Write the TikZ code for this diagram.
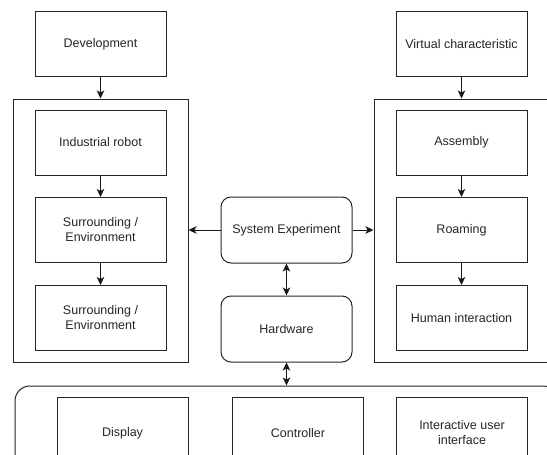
\documentclass[tikz,border=0pt]{standalone}
\usepackage{fontspec}
\setmainfont{Liberation Sans}
\usetikzlibrary{arrows.meta}
\begin{document}
\begin{tikzpicture}[x=1pt,y=-1pt,
  every node/.style={font=\fontsize{12.5}{15}\selectfont, text=black!85, align=center, inner sep=0pt},
  box/.style={draw=black!85, line width=1pt, minimum width=131pt, minimum height=65pt},
  rbox/.style={box, rounded corners=10pt, minimum height=66pt},
  frame/.style={draw=black!85, line width=1pt, minimum width=175pt, minimum height=263pt},
  arr/.style={-{Stealth[length=8pt,width=7.5pt,inset=2pt]}, line width=1pt, draw=black!90},
  darr/.style={{Stealth[length=8pt,width=7.5pt,inset=2pt]}-{Stealth[length=8pt,width=7.5pt,inset=2pt]}, line width=1pt, draw=black!90}
]
\useasboundingbox (0,0) rectangle (547,455);
\clip (0,0) rectangle (547,455);
\fill[white] (0,0) rectangle (547,455);
% left column
\node[box] (dev) at (100.5,44) {Development};
\node[frame] (lc) at (100.5,230.5) {};
\node[box] (ir) at (100.5,142.5) {Industrial robot};
\node[box] (s1) at (100.5,230) {Surrounding /\\Environment};
\node[box] (s2) at (100.5,318) {Surrounding /\\Environment};
% right column
\node[box] (vc) at (461.5,44) {Virtual characteristic};
\node[frame] (rc) at (461.5,230.5) {};
\node[box] (as) at (461.5,142.5) {Assembly};
\node[box] (ro) at (461.5,230) {Roaming};
\node[box] (hi) at (461.5,318) {Human interaction};
% middle
\node[rbox] (se) at (286.5,230) {System Experiment};
\node[rbox] (hw) at (286.5,329) {Hardware};
% bottom container
\node[draw=black!85, line width=1pt, rounded corners=15pt, minimum width=543pt, minimum height=110pt] (bc) at (286.5,441) {};
\node[box, minimum height=72pt] (disp) at (122.5,433) {Display};
\node[box, minimum height=72pt] (ctrl) at (298,433) {Controller};
\node[box, minimum height=72pt] (iui) at (462,433) {Interactive user\\interface};
% connectors
\draw[arr] (dev.south) -- (lc.north);
\draw[arr] (ir.south) -- (s1.north);
\draw[arr] (s1.south) -- (s2.north);
\draw[arr] (vc.south) -- (rc.north);
\draw[arr] (as.south) -- (ro.north);
\draw[arr] (ro.south) -- (hi.north);
\draw[arr] (se.west) -- (se.west -| lc.east);
\draw[arr] (se.east) -- (se.east -| rc.west);
\draw[darr] (se.south) -- (hw.north);
\draw[darr] (hw.south) -- (hw.south |- bc.north);
\end{tikzpicture}
\end{document}
